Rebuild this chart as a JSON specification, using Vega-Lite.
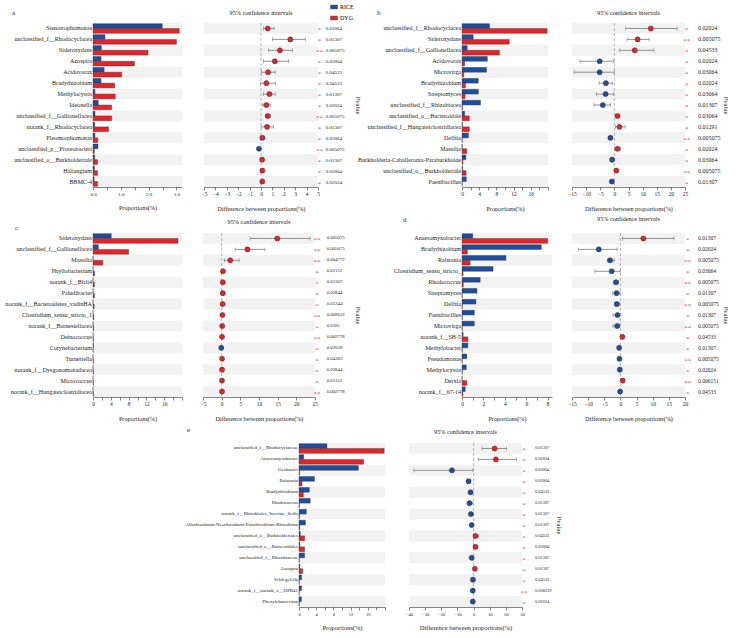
{
"$schema": "https://vega.github.io/schema/vega-lite/v6.json",
"padding": {"left": 2, "top": 3, "right": 0, "bottom": 0},
"spacing": 4,
"config": {
  "view": {"stroke": null},
  "font": "Liberation Serif",
  "axis": {"labelFont": "Liberation Serif", "titleFont": "Liberation Serif", "labelColor": "#222222", "titleColor": "#222222", "titleFontWeight": "normal", "domainColor": "#333333", "tickColor": "#333333", "domainWidth": 0.6, "tickWidth": 0.6, "tickSize": 3, "labelPadding": 1.5, "grid": false, "labelOverlap": false, "labelFlush": false, "labelSeparation": 0},
  "title": {"font": "Liberation Serif", "fontWeight": "normal", "color": "#222222"},
  "text": {"font": "Liberation Serif"},
  "legend": {"labelFont": "Liberation Serif"}
},
"datasets": {"all": [
{"p":"a","o":1,"t":"Stenotrophomonas","RICE":2.49,"DYG":3.10,"diff":0.59,"lo":0.21,"hi":1.15,"pv":"0.03064","st":"*","en":"DYG"},
{"p":"a","o":2,"t":"unclassified_f__Rhodocyclacea","RICE":0.43,"DYG":3.00,"diff":2.57,"lo":1.0,"hi":3.9,"pv":"0.01307","st":"*","en":"DYG"},
{"p":"a","o":3,"t":"Sideroxydans","RICE":0.30,"DYG":1.98,"diff":1.66,"lo":0.65,"hi":2.78,"pv":"0.005075","st":"**","en":"DYG"},
{"p":"a","o":4,"t":"Azospira","RICE":0.29,"DYG":1.49,"diff":1.21,"lo":0.21,"hi":2.43,"pv":"0.03064","st":"*","en":"DYG"},
{"p":"a","o":5,"t":"Acidovorax","RICE":0.40,"DYG":1.03,"diff":0.62,"lo":0.06,"hi":1.24,"pv":"0.04533","st":"*","en":"DYG"},
{"p":"a","o":6,"t":"Bradyrhizobium","RICE":0.29,"DYG":0.78,"diff":0.47,"lo":-0.06,"hi":1.27,"pv":"0.04533","st":"*","en":"DYG"},
{"p":"a","o":7,"t":"Methylocystis","RICE":0.07,"DYG":0.80,"diff":0.74,"lo":0.21,"hi":1.24,"pv":"0.01307","st":"*","en":"DYG"},
{"p":"a","o":8,"t":"Ideonella","RICE":0.19,"DYG":0.67,"diff":0.47,"lo":0.12,"hi":0.86,"pv":"0.02024","st":"*","en":"DYG"},
{"p":"a","o":9,"t":"unclassified_f__Gallionellacea","RICE":0.07,"DYG":0.67,"diff":0.59,"lo":0.41,"hi":0.83,"pv":"0.005075","st":"**","en":"DYG"},
{"p":"a","o":10,"t":"norank_f__Rhodocyclacea","RICE":0.06,"DYG":0.56,"diff":0.53,"lo":0.06,"hi":1.09,"pv":"0.01307","st":"*","en":"DYG"},
{"p":"a","o":11,"t":"Pleomorphomonas","RICE":0.07,"DYG":0.17,"diff":0.12,"lo":-0.05,"hi":0.30,"pv":"0.03064","st":"*","en":"DYG"},
{"p":"a","o":12,"t":"unclassified_p__Proteobacteri","RICE":0.18,"DYG":0.05,"diff":-0.18,"lo":-0.32,"hi":-0.04,"pv":"0.005075","st":"**","en":"RICE"},
{"p":"a","o":13,"t":"unclassified_o__Burkholderiale","RICE":0.06,"DYG":0.16,"diff":0.10,"lo":0.02,"hi":0.18,"pv":"0.01307","st":"*","en":"DYG"},
{"p":"a","o":14,"t":"Haliangium","RICE":0.05,"DYG":0.16,"diff":0.12,"lo":0.02,"hi":0.22,"pv":"0.03064","st":"*","en":"DYG"},
{"p":"a","o":15,"t":"BBMC-4","RICE":0.04,"DYG":0.16,"diff":0.12,"lo":0.03,"hi":0.21,"pv":"0.02024","st":"*","en":"DYG"},
{"p":"b","o":1,"t":"unclassified_f__Rhodocyclacea","RICE":6.4,"DYG":19.8,"diff":12.9,"lo":4.0,"hi":22.2,"pv":"0.02024","st":"*","en":"DYG"},
{"p":"b","o":2,"t":"Sideroxydans","RICE":2.6,"DYG":11.0,"diff":8.2,"lo":4.5,"hi":12.3,"pv":"0.005075","st":"**","en":"DYG"},
{"p":"b","o":3,"t":"unclassified_f__Gallionellacea","RICE":1.2,"DYG":8.7,"diff":7.2,"lo":1.9,"hi":14.0,"pv":"0.04533","st":"*","en":"DYG"},
{"p":"b","o":4,"t":"Acidovorax","RICE":5.9,"DYG":0.6,"diff":-5.2,"lo":-12.2,"hi":-0.35,"pv":"0.02024","st":"*","en":"RICE"},
{"p":"b","o":5,"t":"Microvirga","RICE":5.7,"DYG":0.4,"diff":-5.2,"lo":-14.2,"hi":-0.05,"pv":"0.03064","st":"*","en":"RICE"},
{"p":"b","o":6,"t":"Bradyrhizobium","RICE":3.8,"DYG":0.8,"diff":-3.0,"lo":-5.4,"hi":-0.6,"pv":"0.02024","st":"*","en":"RICE"},
{"p":"b","o":7,"t":"Streptomyces","RICE":3.8,"DYG":0.7,"diff":-3.1,"lo":-6.4,"hi":-0.35,"pv":"0.03064","st":"*","en":"RICE"},
{"p":"b","o":8,"t":"unclassified_f__Rhizobiacea","RICE":4.3,"DYG":0.1,"diff":-4.1,"lo":-7.2,"hi":-1.4,"pv":"0.01307","st":"*","en":"RICE"},
{"p":"b","o":9,"t":"unclassified_o__Bacteroidale","RICE":0.6,"DYG":1.7,"diff":1.1,"lo":0.5,"hi":1.9,"pv":"0.03064","st":"*","en":"DYG"},
{"p":"b","o":10,"t":"unclassified_f__Hungateiclostridiacea","RICE":0.1,"DYG":1.7,"diff":1.8,"lo":0.35,"hi":3.8,"pv":"0.01291","st":"*","en":"DYG"},
{"p":"b","o":11,"t":"Delftia","RICE":1.5,"DYG":0.05,"diff":-1.4,"lo":-2.1,"hi":-0.7,"pv":"0.005075","st":"**","en":"RICE"},
{"p":"b","o":12,"t":"Massilia","RICE":0.05,"DYG":1.1,"diff":1.1,"lo":0.2,"hi":2.2,"pv":"0.02024","st":"*","en":"DYG"},
{"p":"b","o":13,"t":"Burkholderia-Caballeronia-Paraburkholde","RICE":0.9,"DYG":0.2,"diff":-0.8,"lo":-1.4,"hi":-0.2,"pv":"0.03064","st":"*","en":"RICE"},
{"p":"b","o":14,"t":"unclassified_o__Burkholderiale","RICE":0.15,"DYG":0.95,"diff":0.7,"lo":0.2,"hi":1.2,"pv":"0.005075","st":"**","en":"DYG"},
{"p":"b","o":15,"t":"Paenibacillus","RICE":1.0,"DYG":0.02,"diff":-0.9,"lo":-1.4,"hi":-0.5,"pv":"0.01307","st":"*","en":"RICE"},
{"p":"c","o":1,"t":"Sideroxydans","RICE":4.1,"DYG":19.1,"diff":14.9,"lo":7.6,"hi":23.7,"pv":"0.005075","st":"**","en":"DYG"},
{"p":"c","o":2,"t":"unclassified_f__Gallionellacea","RICE":1.2,"DYG":8.0,"diff":6.9,"lo":3.6,"hi":11.6,"pv":"0.005075","st":"**","en":"DYG"},
{"p":"c","o":3,"t":"Massilia","RICE":0.02,"DYG":2.2,"diff":2.3,"lo":0.7,"hi":4.7,"pv":"0.004772","st":"**","en":"DYG"},
{"p":"c","o":4,"t":"Phyllobacterium","RICE":0.02,"DYG":0.35,"diff":0.35,"lo":0.1,"hi":0.6,"pv":"0.01152","st":"*","en":"DYG"},
{"p":"c","o":5,"t":"norank_f__Blrii4","RICE":0.01,"DYG":0.3,"diff":0.3,"lo":0.1,"hi":0.5,"pv":"0.01307","st":"*","en":"DYG"},
{"p":"c","o":6,"t":"Paludibacter","RICE":0.01,"DYG":0.3,"diff":0.3,"lo":0.1,"hi":0.5,"pv":"0.02844","st":"*","en":"DYG"},
{"p":"c","o":7,"t":"norank_f__Bacteroidetes_vadinHA","RICE":0.01,"DYG":0.25,"diff":0.25,"lo":0.05,"hi":0.45,"pv":"0.01244","st":"*","en":"DYG"},
{"p":"c","o":8,"t":"Clostridium_sensu_stricto_1","RICE":0.01,"DYG":0.2,"diff":0.2,"lo":0.05,"hi":0.35,"pv":"0.009622","st":"**","en":"DYG"},
{"p":"c","o":9,"t":"norank_f__Barnesiellacea","RICE":0.01,"DYG":0.15,"diff":0.15,"lo":0.05,"hi":0.25,"pv":"0.0181","st":"*","en":"DYG"},
{"p":"c","o":10,"t":"Deinococcus","RICE":0.0,"DYG":0.1,"diff":0.1,"lo":0.05,"hi":0.15,"pv":"0.002778","st":"**","en":"DYG"},
{"p":"c","o":11,"t":"Corynebacterium","RICE":0.1,"DYG":0.02,"diff":-0.1,"lo":-0.15,"hi":-0.05,"pv":"0.02628","st":"*","en":"RICE"},
{"p":"c","o":12,"t":"Turneriella","RICE":0.0,"DYG":0.1,"diff":0.1,"lo":0.04,"hi":0.16,"pv":"0.04383","st":"*","en":"DYG"},
{"p":"c","o":13,"t":"norank_f__Dysgonomonadacea","RICE":0.0,"DYG":0.1,"diff":0.1,"lo":0.04,"hi":0.16,"pv":"0.02844","st":"*","en":"DYG"},
{"p":"c","o":14,"t":"Micrococcus","RICE":0.0,"DYG":0.08,"diff":0.08,"lo":0.03,"hi":0.13,"pv":"0.01152","st":"*","en":"DYG"},
{"p":"c","o":15,"t":"norank_f__Hungateiclostridiacea","RICE":0.0,"DYG":0.1,"diff":0.1,"lo":0.05,"hi":0.15,"pv":"0.002778","st":"**","en":"DYG"},
{"p":"d","o":1,"t":"Anaeromyxobacter","RICE":1.0,"DYG":8.0,"diff":7.1,"lo":0.6,"hi":16.6,"pv":"0.01307","st":"*","en":"DYG"},
{"p":"d","o":2,"t":"Bradyrhizobium","RICE":7.4,"DYG":0.5,"diff":-6.7,"lo":-13.0,"hi":-1.0,"pv":"0.02024","st":"*","en":"RICE"},
{"p":"d","o":3,"t":"Ralstonia","RICE":4.1,"DYG":0.75,"diff":-3.2,"lo":-4.0,"hi":-1.9,"pv":"0.005075","st":"**","en":"RICE"},
{"p":"d","o":4,"t":"Clostridium_sensu_stricto_","RICE":2.9,"DYG":0.1,"diff":-2.7,"lo":-7.9,"hi":-0.05,"pv":"0.03064","st":"*","en":"RICE"},
{"p":"d","o":5,"t":"Rhodococcus","RICE":1.7,"DYG":0.12,"diff":-1.35,"lo":-2.1,"hi":-0.6,"pv":"0.005075","st":"**","en":"RICE"},
{"p":"d","o":6,"t":"Streptomyces","RICE":1.4,"DYG":0.03,"diff":-1.2,"lo":-2.5,"hi":-0.1,"pv":"0.01307","st":"*","en":"RICE"},
{"p":"d","o":7,"t":"Delftia","RICE":1.3,"DYG":0.03,"diff":-1.1,"lo":-1.9,"hi":-0.4,"pv":"0.005075","st":"**","en":"RICE"},
{"p":"d","o":8,"t":"Paenibacillus","RICE":1.15,"DYG":0.03,"diff":-0.9,"lo":-2.3,"hi":-0.2,"pv":"0.01307","st":"*","en":"RICE"},
{"p":"d","o":9,"t":"Microvirga","RICE":1.15,"DYG":0.03,"diff":-1.0,"lo":-2.3,"hi":-0.2,"pv":"0.005075","st":"**","en":"RICE"},
{"p":"d","o":10,"t":"norank_f__SB-5","RICE":0.1,"DYG":0.55,"diff":0.6,"lo":0.1,"hi":1.0,"pv":"0.04533","st":"*","en":"DYG"},
{"p":"d","o":11,"t":"Methylobacter","RICE":0.55,"DYG":0.02,"diff":-0.4,"lo":-0.7,"hi":-0.1,"pv":"0.01307","st":"*","en":"RICE"},
{"p":"d","o":12,"t":"Pseudomonas","RICE":0.45,"DYG":0.02,"diff":-0.3,"lo":-0.5,"hi":-0.1,"pv":"0.005075","st":"**","en":"RICE"},
{"p":"d","o":13,"t":"Methylocystis","RICE":0.4,"DYG":0.02,"diff":-0.2,"lo":-0.4,"hi":-0.05,"pv":"0.02024","st":"*","en":"RICE"},
{"p":"d","o":14,"t":"Derxia","RICE":0.01,"DYG":0.45,"diff":0.7,"lo":0.3,"hi":1.1,"pv":"0.006151","st":"**","en":"DYG"},
{"p":"d","o":15,"t":"norank_f__67-14","RICE":0.3,"DYG":0.08,"diff":-0.1,"lo":-0.2,"hi":-0.02,"pv":"0.04533","st":"*","en":"RICE"},
{"p":"e","o":1,"t":"unclassified_f__Rhodocyclaceae","RICE":6.5,"DYG":19.8,"diff":13.0,"lo":5.2,"hi":20.5,"pv":"0.01307","st":"*","en":"DYG"},
{"p":"e","o":2,"t":"Anaeromyxobacter","RICE":1.1,"DYG":15.0,"diff":13.8,"lo":3.1,"hi":26.7,"pv":"0.02024","st":"*","en":"DYG"},
{"p":"e","o":3,"t":"Geobacter","RICE":13.8,"DYG":0.15,"diff":-13.4,"lo":-37.0,"hi":-0.4,"pv":"0.03064","st":"*","en":"RICE"},
{"p":"e","o":4,"t":"Ralstonia","RICE":3.6,"DYG":0.7,"diff":-3.1,"lo":-4.0,"hi":-2.0,"pv":"0.03064","st":"*","en":"RICE"},
{"p":"e","o":5,"t":"Bradyrhizobium","RICE":2.4,"DYG":1.0,"diff":-1.9,"lo":-2.6,"hi":-1.2,"pv":"0.04533","st":"*","en":"RICE"},
{"p":"e","o":6,"t":"Rhodococcus","RICE":2.6,"DYG":0.08,"diff":-2.5,"lo":-3.9,"hi":-0.8,"pv":"0.01307","st":"*","en":"RICE"},
{"p":"e","o":7,"t":"norank_f__Rhizobiales_Incertae_Sedis","RICE":1.7,"DYG":0.08,"diff":-1.65,"lo":-2.4,"hi":-0.9,"pv":"0.01307","st":"*","en":"RICE"},
{"p":"e","o":8,"t":"Allorhizobium-Neorhizobium-Pararhizobium-Rhizobium","RICE":1.5,"DYG":0.2,"diff":-1.2,"lo":-1.8,"hi":-0.6,"pv":"0.01307","st":"*","en":"RICE"},
{"p":"e","o":9,"t":"unclassified_o__Burkholderiales","RICE":0.3,"DYG":1.3,"diff":1.2,"lo":0.0,"hi":2.9,"pv":"0.04533","st":"*","en":"DYG"},
{"p":"e","o":10,"t":"unclassified_o__Bacteroidales","RICE":0.2,"DYG":1.3,"diff":1.2,"lo":0.2,"hi":2.4,"pv":"0.03064","st":"*","en":"DYG"},
{"p":"e","o":11,"t":"unclassified_f__Rhizobiaceae","RICE":1.3,"DYG":0.05,"diff":-1.2,"lo":-1.8,"hi":-0.6,"pv":"0.01307","st":"*","en":"RICE"},
{"p":"e","o":12,"t":"Azospira","RICE":0.2,"DYG":0.85,"diff":0.8,"lo":0.3,"hi":1.3,"pv":"0.01307","st":"*","en":"DYG"},
{"p":"e","o":13,"t":"Schlegelella","RICE":0.6,"DYG":0.05,"diff":-0.4,"lo":-0.7,"hi":-0.1,"pv":"0.04533","st":"*","en":"RICE"},
{"p":"e","o":14,"t":"norank_f__norank_o__OPB41","RICE":0.6,"DYG":0.05,"diff":-0.5,"lo":-0.8,"hi":-0.2,"pv":"0.008239","st":"**","en":"RICE"},
{"p":"e","o":15,"t":"Phenylobacterium","RICE":0.55,"DYG":0.05,"diff":-0.5,"lo":-0.8,"hi":-0.2,"pv":"0.02024","st":"*","en":"RICE"}
]},
"vconcat": [
{"bounds": "flush", "spacing": 0, "hconcat": [
{"width": 89, "height": 164, "data": {"name": "all"}, "transform": [{"filter": "datum.p == 'a'"}],
 "title": {"text": "a", "anchor": "start", "frame": "group", "dx": -81, "offset": 7, "fontSize": 7},
 "encoding": {"y": {"field": "t", "type": "nominal", "sort": {"field": "o", "op": "min"}, "scale": {"paddingInner": 0, "paddingOuter": 0}, "axis": {"title": null, "ticks": false, "domain": false, "labelFontSize": 6.1, "minExtent": 91}}},
 "layer": [
  {"transform": [{"filter": "datum.o % 2 == 1"}], "mark": {"type": "rect", "color": "#F2F2F2"}},
  {"transform": [{"fold": ["RICE", "DYG"], "as": ["g", "v"]}], "mark": {"type": "bar", "stroke": "#333333", "strokeWidth": 0.4},
   "encoding": {
    "x": {"field": "v", "type": "quantitative", "stack": null, "scale": {"domain": [0, 3.2], "nice": false}, "axis": {"title": "Proportions(%)", "values": [0, 0.5, 1, 1.5, 2, 2.5, 3], "labelExpr": "datum.value % 1 == 0 ? format(datum.value, '.1f') : ''", "labelOverlap": false, "labelFontSize": 5, "titleFontSize": 6.2, "titlePadding": 8}},
    "yOffset": {"field": "g", "type": "nominal", "sort": ["RICE", "DYG"], "scale": {"paddingOuter": 0.15}},
    "color": {"field": "g", "type": "nominal", "sort": ["RICE", "DYG"], "scale": {"domain": ["RICE", "DYG"], "range": ["#1F4E9E", "#E3242B"]},
      "legend": {"orient": "none", "legendX": 237, "legendY": -20, "title": null, "symbolType": "M-1,-0.55H1V0.55H-1Z", "symbolSize": 49, "symbolStrokeColor": "#333333", "symbolStrokeWidth": 0.4, "labelFontSize": 6, "rowPadding": 4, "labelOffset": 2}}
   }}
 ]},
{"width": 22, "height": 164, "data": {"values": [{}]}, "mark": {"type": "point", "opacity": 0}},
{"width": 114, "height": 164, "data": {"name": "all"}, "transform": [{"filter": "datum.p == 'a'"}],
 "title": {"text": "95% confidence intervals", "frame": "group", "offset": 6, "fontSize": 6.2},
 "layer": [
  {"transform": [{"filter": "datum.o % 2 == 1"}], "mark": {"type": "rect", "color": "#F2F2F2"}, "encoding": {"y": {"field": "t", "type": "nominal", "sort": {"field": "o", "op": "min"}, "scale": {"paddingInner": 0, "paddingOuter": 0}, "axis": null}}},
  {"mark": {"type": "rule", "color": "#666666", "strokeWidth": 0.7}, "encoding": {"y": {"field": "t", "type": "nominal", "sort": {"field": "o", "op": "min"}}, "x": {"field": "lo", "type": "quantitative", "scale": {"domain": [-5, 5], "nice": false, "zero": false}, "axis": {"title": "Difference between proportions(%)", "values": [-5, -4, -3, -2, -1, 0, 1, 2, 3, 4, 5], "labelOverlap": false, "labelFontSize": 5.5, "titleFontSize": 6.2, "titlePadding": 8}}, "x2": {"field": "hi"}}},
  {"transform": [{"aggregate": [{"op": "count", "as": "n"}]}], "mark": {"type": "rule", "color": "#999999", "strokeDash": [3, 2], "strokeWidth": 0.7}, "encoding": {"x": {"datum": 0, "type": "quantitative", "scale": {"domain": [-5, 5], "nice": false, "zero": false}, "axis": {"title": "Difference between proportions(%)", "values": [-5, -4, -3, -2, -1, 0, 1, 2, 3, 4, 5], "labelOverlap": false, "labelFontSize": 5.5, "titleFontSize": 6.2, "titlePadding": 8}}}},
  {"mark": {"type": "tick", "color": "#666666", "thickness": 0.7, "size": 4}, "encoding": {"y": {"field": "t", "type": "nominal", "sort": {"field": "o", "op": "min"}}, "x": {"field": "lo", "type": "quantitative", "scale": {"domain": [-5, 5], "nice": false, "zero": false}, "axis": {"title": "Difference between proportions(%)", "values": [-5, -4, -3, -2, -1, 0, 1, 2, 3, 4, 5], "labelOverlap": false, "labelFontSize": 5.5, "titleFontSize": 6.2, "titlePadding": 8}}}},
  {"mark": {"type": "tick", "color": "#666666", "thickness": 0.7, "size": 4}, "encoding": {"y": {"field": "t", "type": "nominal", "sort": {"field": "o", "op": "min"}}, "x": {"field": "hi", "type": "quantitative", "scale": {"domain": [-5, 5], "nice": false, "zero": false}, "axis": {"title": "Difference between proportions(%)", "values": [-5, -4, -3, -2, -1, 0, 1, 2, 3, 4, 5], "labelOverlap": false, "labelFontSize": 5.5, "titleFontSize": 6.2, "titlePadding": 8}}}},
  {"mark": {"type": "point", "filled": true, "size": 26, "stroke": "#333333", "strokeWidth": 0.5, "opacity": 1}, "encoding": {"y": {"field": "t", "type": "nominal", "sort": {"field": "o", "op": "min"}}, "x": {"field": "diff", "type": "quantitative", "scale": {"domain": [-5, 5], "nice": false, "zero": false}, "axis": {"title": "Difference between proportions(%)", "values": [-5, -4, -3, -2, -1, 0, 1, 2, 3, 4, 5], "labelOverlap": false, "labelFontSize": 5.5, "titleFontSize": 6.2, "titlePadding": 8}}, "color": {"field": "en", "type": "nominal", "scale": {"domain": ["RICE", "DYG"], "range": ["#1F4E9E", "#E3242B"]}, "legend": null}}}
 ]},
{"width": 35, "height": 164, "data": {"name": "all"}, "transform": [{"filter": "datum.p == 'a'"}],
 "encoding": {"y": {"field": "t", "type": "nominal", "sort": {"field": "o", "op": "min"}, "scale": {"paddingInner": 0, "paddingOuter": 0}, "axis": {"orient": "right", "title": "Pvalue", "labels": false, "ticks": false, "domain": false, "titleFontSize": 6.5, "titlePadding": 1}}},
 "layer": [
  {"mark": {"type": "text", "color": "#F04A4A", "align": "center", "dx": -16, "dy": 2, "fontSize": 7}, "encoding": {"text": {"field": "st", "type": "nominal"}}},
  {"mark": {"type": "text", "color": "#222222", "align": "left", "dx": -9.8, "fontSize": 5}, "encoding": {"text": {"field": "pv", "type": "nominal"}}}
 ]},
{"width": 109, "height": 164, "data": {"values": [{}]}, "mark": {"type": "point", "opacity": 0}},
{"width": 86, "height": 164, "data": {"name": "all"}, "transform": [{"filter": "datum.p == 'b'"}],
 "title": {"text": "b", "anchor": "start", "frame": "group", "dx": -85, "offset": 7, "fontSize": 7},
 "encoding": {"y": {"field": "t", "type": "nominal", "sort": {"field": "o", "op": "min"}, "scale": {"paddingInner": 0, "paddingOuter": 0}, "axis": {"title": null, "ticks": false, "domain": false, "labelFontSize": 6.1}}},
 "layer": [
  {"transform": [{"filter": "datum.o % 2 == 1"}], "mark": {"type": "rect", "color": "#F2F2F2"}},
  {"transform": [{"fold": ["RICE", "DYG"], "as": ["g", "v"]}], "mark": {"type": "bar", "stroke": "#333333", "strokeWidth": 0.4},
   "encoding": {
    "x": {"field": "v", "type": "quantitative", "stack": null, "scale": {"domain": [0, 20], "nice": false}, "axis": {"title": "Proportions(%)", "values": [0, 2, 4, 6, 8, 10, 12, 14, 16, 18, 20], "labelExpr": "datum.value % 4 == 0 && datum.value < 20 ? datum.value : ''", "labelOverlap": false, "labelFontSize": 5.5, "titleFontSize": 6.2, "titlePadding": 8}},
    "yOffset": {"field": "g", "type": "nominal", "sort": ["RICE", "DYG"], "scale": {"paddingOuter": 0.15}},
    "color": {"field": "g", "type": "nominal", "scale": {"domain": ["RICE", "DYG"], "range": ["#1F4E9E", "#E3242B"]}, "legend": null}
   }}
 ]},
{"width": 24, "height": 164, "data": {"values": [{}]}, "mark": {"type": "point", "opacity": 0}},
{"width": 113, "height": 164, "data": {"name": "all"}, "transform": [{"filter": "datum.p == 'b'"}],
 "title": {"text": "95% confidence intervals", "frame": "group", "offset": 6, "fontSize": 6.2},
 "layer": [
  {"transform": [{"filter": "datum.o % 2 == 1"}], "mark": {"type": "rect", "color": "#F2F2F2"}, "encoding": {"y": {"field": "t", "type": "nominal", "sort": {"field": "o", "op": "min"}, "scale": {"paddingInner": 0, "paddingOuter": 0}, "axis": null}}},
  {"mark": {"type": "rule", "color": "#666666", "strokeWidth": 0.7}, "encoding": {"y": {"field": "t", "type": "nominal", "sort": {"field": "o", "op": "min"}}, "x": {"field": "lo", "type": "quantitative", "scale": {"domain": [-15, 25], "nice": false, "zero": false}, "axis": {"title": "Difference between proportions(%)", "values": [-15, -10, -5, 0, 5, 10, 15, 20, 25], "labelOverlap": false, "labelFontSize": 5.5, "titleFontSize": 6.2, "titlePadding": 8}}, "x2": {"field": "hi"}}},
  {"transform": [{"aggregate": [{"op": "count", "as": "n"}]}], "mark": {"type": "rule", "color": "#999999", "strokeDash": [3, 2], "strokeWidth": 0.7}, "encoding": {"x": {"datum": 0, "type": "quantitative", "scale": {"domain": [-15, 25], "nice": false, "zero": false}, "axis": {"title": "Difference between proportions(%)", "values": [-15, -10, -5, 0, 5, 10, 15, 20, 25], "labelOverlap": false, "labelFontSize": 5.5, "titleFontSize": 6.2, "titlePadding": 8}}}},
  {"mark": {"type": "tick", "color": "#666666", "thickness": 0.7, "size": 4}, "encoding": {"y": {"field": "t", "type": "nominal", "sort": {"field": "o", "op": "min"}}, "x": {"field": "lo", "type": "quantitative", "scale": {"domain": [-15, 25], "nice": false, "zero": false}, "axis": {"title": "Difference between proportions(%)", "values": [-15, -10, -5, 0, 5, 10, 15, 20, 25], "labelOverlap": false, "labelFontSize": 5.5, "titleFontSize": 6.2, "titlePadding": 8}}}},
  {"mark": {"type": "tick", "color": "#666666", "thickness": 0.7, "size": 4}, "encoding": {"y": {"field": "t", "type": "nominal", "sort": {"field": "o", "op": "min"}}, "x": {"field": "hi", "type": "quantitative", "scale": {"domain": [-15, 25], "nice": false, "zero": false}, "axis": {"title": "Difference between proportions(%)", "values": [-15, -10, -5, 0, 5, 10, 15, 20, 25], "labelOverlap": false, "labelFontSize": 5.5, "titleFontSize": 6.2, "titlePadding": 8}}}},
  {"mark": {"type": "point", "filled": true, "size": 26, "stroke": "#333333", "strokeWidth": 0.5, "opacity": 1}, "encoding": {"y": {"field": "t", "type": "nominal", "sort": {"field": "o", "op": "min"}}, "x": {"field": "diff", "type": "quantitative", "scale": {"domain": [-15, 25], "nice": false, "zero": false}, "axis": {"title": "Difference between proportions(%)", "values": [-15, -10, -5, 0, 5, 10, 15, 20, 25], "labelOverlap": false, "labelFontSize": 5.5, "titleFontSize": 6.2, "titlePadding": 8}}, "color": {"field": "en", "type": "nominal", "scale": {"domain": ["RICE", "DYG"], "range": ["#1F4E9E", "#E3242B"]}, "legend": null}}}
 ]},
{"width": 36, "height": 164, "data": {"name": "all"}, "transform": [{"filter": "datum.p == 'b'"}],
 "encoding": {"y": {"field": "t", "type": "nominal", "sort": {"field": "o", "op": "min"}, "scale": {"paddingInner": 0, "paddingOuter": 0}, "axis": {"orient": "right", "title": "Pvalue", "labels": false, "ticks": false, "domain": false, "titleFontSize": 6.5, "titlePadding": 1}}},
 "layer": [
  {"mark": {"type": "text", "color": "#F04A4A", "align": "center", "dx": -16.3, "dy": 2, "fontSize": 7}, "encoding": {"text": {"field": "st", "type": "nominal"}}},
  {"mark": {"type": "text", "color": "#222222", "align": "left", "dx": -5, "fontSize": 6}, "encoding": {"text": {"field": "pv", "type": "nominal"}}}
 ]}
]},
{"bounds": "flush", "spacing": 0, "hconcat": [
{"width": 89, "height": 164, "data": {"name": "all"}, "transform": [{"filter": "datum.p == 'c'"}],
 "title": {"text": "c", "anchor": "start", "frame": "group", "dx": -78, "offset": 2, "fontSize": 7},
 "encoding": {"y": {"field": "t", "type": "nominal", "sort": {"field": "o", "op": "min"}, "scale": {"paddingInner": 0, "paddingOuter": 0}, "axis": {"title": null, "ticks": false, "domain": false, "labelFontSize": 6.1, "minExtent": 91}}},
 "layer": [
  {"transform": [{"filter": "datum.o % 2 == 1"}], "mark": {"type": "rect", "color": "#F2F2F2"}},
  {"transform": [{"fold": ["RICE", "DYG"], "as": ["g", "v"]}], "mark": {"type": "bar", "stroke": "#333333", "strokeWidth": 0.4},
   "encoding": {
    "x": {"field": "v", "type": "quantitative", "stack": null, "scale": {"domain": [0, 20], "nice": false}, "axis": {"title": "Proportions(%)", "values": [0, 2, 4, 6, 8, 10, 12, 14, 16, 18, 20], "labelExpr": "datum.value % 4 == 0 && datum.value < 20 ? datum.value : ''", "labelOverlap": false, "labelFontSize": 5.5, "titleFontSize": 6.2, "titlePadding": 8}},
    "yOffset": {"field": "g", "type": "nominal", "sort": ["RICE", "DYG"], "scale": {"paddingOuter": 0.15}},
    "color": {"field": "g", "type": "nominal", "scale": {"domain": ["RICE", "DYG"], "range": ["#1F4E9E", "#E3242B"]}, "legend": null}
   }}
 ]},
{"width": 21, "height": 164, "data": {"values": [{}]}, "mark": {"type": "point", "opacity": 0}},
{"width": 112, "height": 164, "data": {"name": "all"}, "transform": [{"filter": "datum.p == 'c'"}],
 "title": {"text": "95% confidence intervals", "frame": "group", "offset": 7, "fontSize": 6.2},
 "layer": [
  {"transform": [{"filter": "datum.o % 2 == 1"}], "mark": {"type": "rect", "color": "#F2F2F2"}, "encoding": {"y": {"field": "t", "type": "nominal", "sort": {"field": "o", "op": "min"}, "scale": {"paddingInner": 0, "paddingOuter": 0}, "axis": null}}},
  {"mark": {"type": "rule", "color": "#666666", "strokeWidth": 0.7}, "encoding": {"y": {"field": "t", "type": "nominal", "sort": {"field": "o", "op": "min"}}, "x": {"field": "lo", "type": "quantitative", "scale": {"domain": [-5, 25], "nice": false, "zero": false}, "axis": {"title": "Difference between proportions(%)", "values": [-5, 0, 5, 10, 15, 20, 25], "labelOverlap": false, "labelFontSize": 5.5, "titleFontSize": 6.2, "titlePadding": 8}}, "x2": {"field": "hi"}}},
  {"transform": [{"aggregate": [{"op": "count", "as": "n"}]}], "mark": {"type": "rule", "color": "#999999", "strokeDash": [3, 2], "strokeWidth": 0.7}, "encoding": {"x": {"datum": 0, "type": "quantitative", "scale": {"domain": [-5, 25], "nice": false, "zero": false}, "axis": {"title": "Difference between proportions(%)", "values": [-5, 0, 5, 10, 15, 20, 25], "labelOverlap": false, "labelFontSize": 5.5, "titleFontSize": 6.2, "titlePadding": 8}}}},
  {"mark": {"type": "tick", "color": "#666666", "thickness": 0.7, "size": 4}, "encoding": {"y": {"field": "t", "type": "nominal", "sort": {"field": "o", "op": "min"}}, "x": {"field": "lo", "type": "quantitative", "scale": {"domain": [-5, 25], "nice": false, "zero": false}, "axis": {"title": "Difference between proportions(%)", "values": [-5, 0, 5, 10, 15, 20, 25], "labelOverlap": false, "labelFontSize": 5.5, "titleFontSize": 6.2, "titlePadding": 8}}}},
  {"mark": {"type": "tick", "color": "#666666", "thickness": 0.7, "size": 4}, "encoding": {"y": {"field": "t", "type": "nominal", "sort": {"field": "o", "op": "min"}}, "x": {"field": "hi", "type": "quantitative", "scale": {"domain": [-5, 25], "nice": false, "zero": false}, "axis": {"title": "Difference between proportions(%)", "values": [-5, 0, 5, 10, 15, 20, 25], "labelOverlap": false, "labelFontSize": 5.5, "titleFontSize": 6.2, "titlePadding": 8}}}},
  {"mark": {"type": "point", "filled": true, "size": 26, "stroke": "#333333", "strokeWidth": 0.5, "opacity": 1}, "encoding": {"y": {"field": "t", "type": "nominal", "sort": {"field": "o", "op": "min"}}, "x": {"field": "diff", "type": "quantitative", "scale": {"domain": [-5, 25], "nice": false, "zero": false}, "axis": {"title": "Difference between proportions(%)", "values": [-5, 0, 5, 10, 15, 20, 25], "labelOverlap": false, "labelFontSize": 5.5, "titleFontSize": 6.2, "titlePadding": 8}}, "color": {"field": "en", "type": "nominal", "scale": {"domain": ["RICE", "DYG"], "range": ["#1F4E9E", "#E3242B"]}, "legend": null}}}
 ]},
{"width": 38, "height": 164, "data": {"name": "all"}, "transform": [{"filter": "datum.p == 'c'"}],
 "encoding": {"y": {"field": "t", "type": "nominal", "sort": {"field": "o", "op": "min"}, "scale": {"paddingInner": 0, "paddingOuter": 0}, "axis": {"orient": "right", "title": "Pvalue", "labels": false, "ticks": false, "domain": false, "titleFontSize": 6.5, "titlePadding": 1}}},
 "layer": [
  {"mark": {"type": "text", "color": "#F04A4A", "align": "center", "dx": -17, "dy": 2, "fontSize": 7}, "encoding": {"text": {"field": "st", "type": "nominal"}}},
  {"mark": {"type": "text", "color": "#222222", "align": "left", "dx": -7.3, "fontSize": 4.8}, "encoding": {"text": {"field": "pv", "type": "nominal"}}}
 ]},
{"width": 109, "height": 164, "data": {"values": [{}]}, "mark": {"type": "point", "opacity": 0}},
{"width": 90, "height": 164, "data": {"name": "all"}, "transform": [{"filter": "datum.p == 'd'"}],
 "title": {"text": "d", "anchor": "start", "frame": "group", "dx": -59, "offset": 10, "fontSize": 7},
 "encoding": {"y": {"field": "t", "type": "nominal", "sort": {"field": "o", "op": "min"}, "scale": {"paddingInner": 0, "paddingOuter": 0}, "axis": {"title": null, "ticks": false, "domain": false, "labelFontSize": 6.1}}},
 "layer": [
  {"transform": [{"filter": "datum.o % 2 == 1"}], "mark": {"type": "rect", "color": "#F2F2F2"}},
  {"transform": [{"fold": ["RICE", "DYG"], "as": ["g", "v"]}], "mark": {"type": "bar", "stroke": "#333333", "strokeWidth": 0.4},
   "encoding": {
    "x": {"field": "v", "type": "quantitative", "stack": null, "scale": {"domain": [0, 8.4], "nice": false}, "axis": {"title": "Proportions(%)", "values": [0, 1, 2, 3, 4, 5, 6, 7, 8], "labelExpr": "datum.value % 2 == 0 ? datum.value : ''", "labelOverlap": false, "labelFontSize": 5.5, "titleFontSize": 6.2, "titlePadding": 8}},
    "yOffset": {"field": "g", "type": "nominal", "sort": ["RICE", "DYG"], "scale": {"paddingOuter": 0.15}},
    "color": {"field": "g", "type": "nominal", "scale": {"domain": ["RICE", "DYG"], "range": ["#1F4E9E", "#E3242B"]}, "legend": null}
   }}
 ]},
{"width": 20, "height": 164, "data": {"values": [{}]}, "mark": {"type": "point", "opacity": 0}},
{"width": 113, "height": 164, "data": {"name": "all"}, "transform": [{"filter": "datum.p == 'd'"}],
 "title": {"text": "95% confidence intervals", "frame": "group", "offset": 10, "fontSize": 6.2},
 "layer": [
  {"transform": [{"filter": "datum.o % 2 == 1"}], "mark": {"type": "rect", "color": "#F2F2F2"}, "encoding": {"y": {"field": "t", "type": "nominal", "sort": {"field": "o", "op": "min"}, "scale": {"paddingInner": 0, "paddingOuter": 0}, "axis": null}}},
  {"mark": {"type": "rule", "color": "#666666", "strokeWidth": 0.7}, "encoding": {"y": {"field": "t", "type": "nominal", "sort": {"field": "o", "op": "min"}}, "x": {"field": "lo", "type": "quantitative", "scale": {"domain": [-15, 20], "nice": false, "zero": false}, "axis": {"title": "Difference between proportions(%)", "values": [-15, -10, -5, 0, 5, 10, 15, 20], "labelOverlap": false, "labelFontSize": 5.5, "titleFontSize": 6.2, "titlePadding": 8}}, "x2": {"field": "hi"}}},
  {"transform": [{"aggregate": [{"op": "count", "as": "n"}]}], "mark": {"type": "rule", "color": "#999999", "strokeDash": [3, 2], "strokeWidth": 0.7}, "encoding": {"x": {"datum": 0, "type": "quantitative", "scale": {"domain": [-15, 20], "nice": false, "zero": false}, "axis": {"title": "Difference between proportions(%)", "values": [-15, -10, -5, 0, 5, 10, 15, 20], "labelOverlap": false, "labelFontSize": 5.5, "titleFontSize": 6.2, "titlePadding": 8}}}},
  {"mark": {"type": "tick", "color": "#666666", "thickness": 0.7, "size": 4}, "encoding": {"y": {"field": "t", "type": "nominal", "sort": {"field": "o", "op": "min"}}, "x": {"field": "lo", "type": "quantitative", "scale": {"domain": [-15, 20], "nice": false, "zero": false}, "axis": {"title": "Difference between proportions(%)", "values": [-15, -10, -5, 0, 5, 10, 15, 20], "labelOverlap": false, "labelFontSize": 5.5, "titleFontSize": 6.2, "titlePadding": 8}}}},
  {"mark": {"type": "tick", "color": "#666666", "thickness": 0.7, "size": 4}, "encoding": {"y": {"field": "t", "type": "nominal", "sort": {"field": "o", "op": "min"}}, "x": {"field": "hi", "type": "quantitative", "scale": {"domain": [-15, 20], "nice": false, "zero": false}, "axis": {"title": "Difference between proportions(%)", "values": [-15, -10, -5, 0, 5, 10, 15, 20], "labelOverlap": false, "labelFontSize": 5.5, "titleFontSize": 6.2, "titlePadding": 8}}}},
  {"mark": {"type": "point", "filled": true, "size": 26, "stroke": "#333333", "strokeWidth": 0.5, "opacity": 1}, "encoding": {"y": {"field": "t", "type": "nominal", "sort": {"field": "o", "op": "min"}}, "x": {"field": "diff", "type": "quantitative", "scale": {"domain": [-15, 20], "nice": false, "zero": false}, "axis": {"title": "Difference between proportions(%)", "values": [-15, -10, -5, 0, 5, 10, 15, 20], "labelOverlap": false, "labelFontSize": 5.5, "titleFontSize": 6.2, "titlePadding": 8}}, "color": {"field": "en", "type": "nominal", "scale": {"domain": ["RICE", "DYG"], "range": ["#1F4E9E", "#E3242B"]}, "legend": null}}}
 ]},
{"width": 36, "height": 164, "data": {"name": "all"}, "transform": [{"filter": "datum.p == 'd'"}],
 "encoding": {"y": {"field": "t", "type": "nominal", "sort": {"field": "o", "op": "min"}, "scale": {"paddingInner": 0, "paddingOuter": 0}, "axis": {"orient": "right", "title": "Pvalue", "labels": false, "ticks": false, "domain": false, "titleFontSize": 6.5, "titlePadding": 1}}},
 "layer": [
  {"mark": {"type": "text", "color": "#F04A4A", "align": "center", "dx": -15.3, "dy": 2, "fontSize": 7}, "encoding": {"text": {"field": "st", "type": "nominal"}}},
  {"mark": {"type": "text", "color": "#222222", "align": "left", "dx": -5, "fontSize": 5.5}, "encoding": {"text": {"field": "pv", "type": "nominal"}}}
 ]}
]},
{"bounds": "flush", "spacing": 0, "hconcat": [
{"width": 206, "height": 164, "data": {"values": [{}]}, "mark": {"type": "point", "opacity": 0}},
{"width": 86, "height": 164, "data": {"name": "all"}, "transform": [{"filter": "datum.p == 'e'"}],
 "title": {"text": "e", "anchor": "start", "frame": "group", "dx": -112, "offset": 10, "fontSize": 7},
 "encoding": {"y": {"field": "t", "type": "nominal", "sort": {"field": "o", "op": "min"}, "scale": {"paddingInner": 0, "paddingOuter": 0}, "axis": {"title": null, "ticks": false, "domain": false, "labelFontSize": 4.9}}},
 "layer": [
  {"transform": [{"filter": "datum.o % 2 == 1"}], "mark": {"type": "rect", "color": "#F2F2F2"}},
  {"transform": [{"fold": ["RICE", "DYG"], "as": ["g", "v"]}], "mark": {"type": "bar", "stroke": "#333333", "strokeWidth": 0.4},
   "encoding": {
    "x": {"field": "v", "type": "quantitative", "stack": null, "scale": {"domain": [0, 20], "nice": false}, "axis": {"title": "Proportions(%)", "values": [0, 2, 4, 6, 8, 10, 12, 14, 16, 18, 20], "labelExpr": "datum.value % 4 == 0 && datum.value < 20 ? datum.value : ''", "labelOverlap": false, "labelFontSize": 4.5, "titleFontSize": 6.5, "titlePadding": 8}},
    "yOffset": {"field": "g", "type": "nominal", "sort": ["RICE", "DYG"], "scale": {"paddingOuter": 0.15}},
    "color": {"field": "g", "type": "nominal", "scale": {"domain": ["RICE", "DYG"], "range": ["#1F4E9E", "#E3242B"]}, "legend": null}
   }}
 ]},
{"width": 24, "height": 164, "data": {"values": [{}]}, "mark": {"type": "point", "opacity": 0}},
{"width": 113, "height": 164, "data": {"name": "all"}, "transform": [{"filter": "datum.p == 'e'"}],
 "title": {"text": "95% confidence intervals", "frame": "group", "offset": 7, "fontSize": 6.2},
 "layer": [
  {"transform": [{"filter": "datum.o % 2 == 1"}], "mark": {"type": "rect", "color": "#F2F2F2"}, "encoding": {"y": {"field": "t", "type": "nominal", "sort": {"field": "o", "op": "min"}, "scale": {"paddingInner": 0, "paddingOuter": 0}, "axis": null}}},
  {"mark": {"type": "rule", "color": "#666666", "strokeWidth": 0.7}, "encoding": {"y": {"field": "t", "type": "nominal", "sort": {"field": "o", "op": "min"}}, "x": {"field": "lo", "type": "quantitative", "scale": {"domain": [-40, 30], "nice": false, "zero": false}, "axis": {"title": "Difference between proportions(%)", "values": [-40, -30, -20, -10, 0, 10, 20, 30], "labelOverlap": false, "labelFontSize": 4.5, "titleFontSize": 6.5, "titlePadding": 8}}, "x2": {"field": "hi"}}},
  {"transform": [{"aggregate": [{"op": "count", "as": "n"}]}], "mark": {"type": "rule", "color": "#999999", "strokeDash": [3, 2], "strokeWidth": 0.7}, "encoding": {"x": {"datum": 0, "type": "quantitative", "scale": {"domain": [-40, 30], "nice": false, "zero": false}, "axis": {"title": "Difference between proportions(%)", "values": [-40, -30, -20, -10, 0, 10, 20, 30], "labelOverlap": false, "labelFontSize": 4.5, "titleFontSize": 6.5, "titlePadding": 8}}}},
  {"mark": {"type": "tick", "color": "#666666", "thickness": 0.7, "size": 4}, "encoding": {"y": {"field": "t", "type": "nominal", "sort": {"field": "o", "op": "min"}}, "x": {"field": "lo", "type": "quantitative", "scale": {"domain": [-40, 30], "nice": false, "zero": false}, "axis": {"title": "Difference between proportions(%)", "values": [-40, -30, -20, -10, 0, 10, 20, 30], "labelOverlap": false, "labelFontSize": 4.5, "titleFontSize": 6.5, "titlePadding": 8}}}},
  {"mark": {"type": "tick", "color": "#666666", "thickness": 0.7, "size": 4}, "encoding": {"y": {"field": "t", "type": "nominal", "sort": {"field": "o", "op": "min"}}, "x": {"field": "hi", "type": "quantitative", "scale": {"domain": [-40, 30], "nice": false, "zero": false}, "axis": {"title": "Difference between proportions(%)", "values": [-40, -30, -20, -10, 0, 10, 20, 30], "labelOverlap": false, "labelFontSize": 4.5, "titleFontSize": 6.5, "titlePadding": 8}}}},
  {"mark": {"type": "point", "filled": true, "size": 26, "stroke": "#333333", "strokeWidth": 0.5, "opacity": 1}, "encoding": {"y": {"field": "t", "type": "nominal", "sort": {"field": "o", "op": "min"}}, "x": {"field": "diff", "type": "quantitative", "scale": {"domain": [-40, 30], "nice": false, "zero": false}, "axis": {"title": "Difference between proportions(%)", "values": [-40, -30, -20, -10, 0, 10, 20, 30], "labelOverlap": false, "labelFontSize": 4.5, "titleFontSize": 6.5, "titlePadding": 8}}, "color": {"field": "en", "type": "nominal", "scale": {"domain": ["RICE", "DYG"], "range": ["#1F4E9E", "#E3242B"]}, "legend": null}}}
 ]},
{"width": 32, "height": 164, "data": {"name": "all"}, "transform": [{"filter": "datum.p == 'e'"}],
 "encoding": {"y": {"field": "t", "type": "nominal", "sort": {"field": "o", "op": "min"}, "scale": {"paddingInner": 0, "paddingOuter": 0}, "axis": {"orient": "right", "title": "Pvalue", "labels": false, "ticks": false, "domain": false, "titleFontSize": 6.5, "titlePadding": 1}}},
 "layer": [
  {"mark": {"type": "text", "color": "#F04A4A", "align": "center", "dx": -14, "dy": 2, "fontSize": 7}, "encoding": {"text": {"field": "st", "type": "nominal"}}},
  {"mark": {"type": "text", "color": "#222222", "align": "left", "dx": -3, "fontSize": 4.4}, "encoding": {"text": {"field": "pv", "type": "nominal"}}}
 ]}
]}
]
}
